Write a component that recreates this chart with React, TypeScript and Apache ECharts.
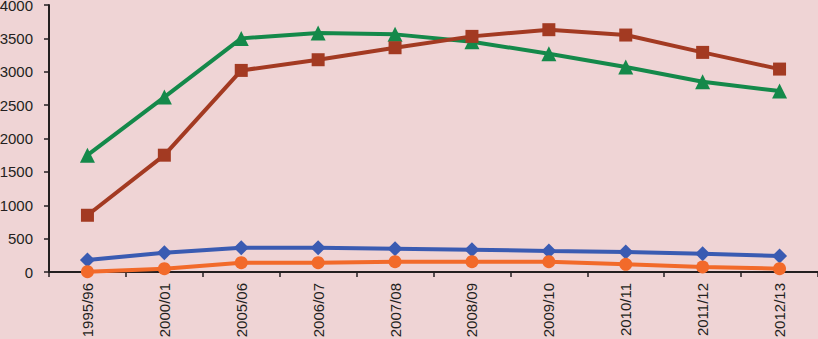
import React, { useEffect, useRef } from "react";
import * as echarts from "echarts";

const categories = ["1995/96", "2000/01", "2005/06", "2006/07", "2007/08", "2008/09", "2009/10", "2010/11", "2011/12", "2012/13"];
const greenValues = [1750, 2620, 3500, 3580, 3560, 3450, 3270, 3070, 2850, 2710];
const redValues = [850, 1750, 3020, 3180, 3360, 3530, 3630, 3550, 3290, 3040];
const blueValues = [180, 290, 365, 365, 350, 335, 315, 300, 275, 240];
const orangeValues = [5, 50, 140, 140, 155, 155, 155, 115, 75, 50];
const yTicks = [0, 500, 1000, 1500, 2000, 2500, 3000, 3500, 4000];

export default function App() {
  const ref = useRef<HTMLDivElement>(null);
  useEffect(() => {
    document.body.style.margin = "0";
    const chart = echarts.init(ref.current!, undefined, { renderer: "svg" });
    const font = "Liberation Sans";
    const mk = (name: string, data: number[], color: string, symbol: string, size: number) => ({
      name,
      type: "line",
      data,
      symbol,
      symbolSize: size,
      lineStyle: { color, width: 4 },
      itemStyle: { color },
      z: 2,
    });
    chart.setOption({
      animation: false,
      backgroundColor: "#efd4d5",
      grid: { left: 49, right: 0, top: 5, bottom: 67, containLabel: false, outerBoundsMode: "none" },
      xAxis: {
        type: "category",
        data: categories,
        boundaryGap: true,
        axisLine: { lineStyle: { color: "#231f20", width: 2 } },
        axisTick: { show: true, length: 5, lineStyle: { color: "#231f20", width: 1.5 } },
        axisLabel: { rotate: 90, margin: 11, color: "#231f20", fontSize: 15, fontFamily: font, interval: 0 },
      },
      yAxis: {
        type: "value",
        min: yTicks[0],
        max: yTicks[yTicks.length - 1],
        interval: 500,
        splitLine: { show: false },
        axisLine: { show: true, lineStyle: { color: "#231f20", width: 2 } },
        axisTick: { show: true, length: 5, lineStyle: { color: "#231f20", width: 1.5 } },
        axisLabel: { margin: 16, color: "#231f20", fontSize: 15, fontFamily: font, formatter: (v: number) => String(v) },
      },
      series: [
        mk("green", greenValues, "#14894a", "triangle", 15),
        mk("red", redValues, "#a33a22", "rect", 13),
        mk("blue", blueValues, "#3a5bb2", "diamond", 15),
        mk("orange", orangeValues, "#f26a2a", "circle", 13),
      ],
    });
    return () => chart.dispose();
  }, []);
  return <div ref={ref} style={{ width: 818, height: 339 }} />;
}
